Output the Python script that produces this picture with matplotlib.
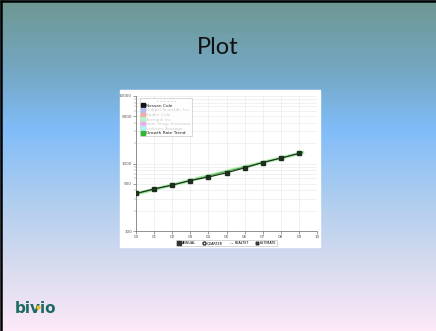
import numpy as np
import matplotlib.pyplot as plt
from matplotlib.colors import LinearSegmentedColormap
from matplotlib.lines import Line2D
from matplotlib.patches import Rectangle

# series values
years = ["00", "01", "02", "03", "04", "05", "06", "07", "08", "09", "10"]
nessen_cole = [360, 422, 478, 560, 630, 728, 863, 1035, 1200, 1410]
trend_x = [0, 9.2]
trend_y = [355, 1450]

y_major = [100, 500, 1000, 5000, 10000]
y_major_labels = ["100", "500", "1000", "5000", "10000"]

legend_names = ["Nessen Cole", "Hubbel Scientific Inc", "Sudler Cole",
                "Archipel Inc", "Baer Stege Investors", "Industry Average",
                "Growth Rate Trend"]
legend_colors = ["#111111", "#b4bcf2", "#f2aaa2", "#b8f2c8", "#f2a8f2",
                 "#b0f2f2", "#2fb82f"]
legend_text_colors = ["#222222", "#c8c8c8", "#c8c8c8", "#c8c8c8", "#c8c8c8",
                      "#c8c8c8", "#222222"]

period_names = ["ANNUAL", "QUARTER", "REALTST", "ESTIMATE"]

fig = plt.figure(figsize=(4.36, 3.31), dpi=100)

# slide background
bg = fig.add_axes([0, 0, 1, 1])
cmap = LinearSegmentedColormap.from_list("slide", [
    (0.0, "#6e9892"), (0.2, "#74a6c0"), (0.39, "#80bcf8"),
    (0.6, "#aecdef"), (0.8, "#d6dbee"), (1.0, "#fde9f8")])
grad = np.linspace(0, 1, 331).reshape(-1, 1)
bg.imshow(grad, aspect="auto", cmap=cmap, extent=[0, 1, 0, 1], origin="upper")
bg.plot([0.003, 0.003], [0, 1], color="black", lw=1.8, solid_capstyle="butt")
bg.plot([0, 1], [0.997, 0.997], color="black", lw=1.8, solid_capstyle="butt")
bg.set_xlim(0, 1)
bg.set_ylim(0, 1)
bg.axis("off")

bg.text(0.5, 0.855, "Plot", ha="center", va="center", fontsize=17,
        family="Lato", color="#111111")

bg.text(0.034, 0.068, "bivio", ha="left", va="center", fontsize=11,
        family="DejaVu Sans", weight="bold", color="#1c6a62", zorder=4)
bg.plot([0.087], [0.074], marker="o", ms=3.0, color="#f0c020", mec="none",
        zorder=6)

# white chart panel
bg.add_patch(Rectangle((0.275, 0.254), 0.459, 0.474, color="white", zorder=2))

ax = fig.add_axes([0.312, 0.302, 0.415, 0.408])
ax.set_facecolor("white")
ax.set_yscale("log")
ax.set_ylim(100, 10000)
ax.set_xlim(0, 10)

x = np.arange(len(nessen_cole))
ax.plot(trend_x, trend_y, color="#a8e8a8", lw=2.4, zorder=2)
ax.plot(trend_x, trend_y, color="#3a9a3a", lw=0.6, zorder=3)
ax.plot(x, nessen_cole, color="#1e2e1e", lw=0.8, marker="s", ms=2.6, zorder=4)

ax.set_xticks(range(len(years)))
ax.set_xticklabels(years, fontsize=3, color="#333333")
ax.set_yticks(y_major)
ax.set_yticklabels(y_major_labels, fontsize=3, color="#333333")
ax.yaxis.set_minor_formatter(plt.NullFormatter())
ax.tick_params(axis="both", length=2, width=0.4, pad=1, colors="#555555")
ax.tick_params(axis="y", which="minor", length=1.5, width=0.3, colors="#777777")
ax.grid(which="both", color="#e6e6e6", lw=0.4)
ax.set_axisbelow(True)
for side in ["top", "right"]:
    ax.spines[side].set_visible(False)
for side in ["left", "bottom"]:
    ax.spines[side].set_color("#666666")
    ax.spines[side].set_linewidth(0.5)

handles = [Line2D([], [], marker="s", ls="none", color=c, ms=2.8)
           for c in legend_colors]
leg = ax.legend(handles, legend_names, loc="upper left",
                bbox_to_anchor=(0.01, 1.0), fontsize=3.1, frameon=True,
                handlelength=0.6, handletextpad=0.6, labelspacing=0.12,
                borderpad=0.3, fancybox=False, edgecolor="#aaaaaa",
                title="-  -  -  -  -  -", title_fontsize=2.5)
leg.get_frame().set_linewidth(0.4)
for t, c in zip(leg.get_texts(), legend_text_colors):
    t.set_color(c)

period_markers = ["s", "o", "None", "X"]
p_handles = [Line2D([], [], marker=m, ls="none" if m != "None" else ":",
                    color="#333333", mfc="#333333" if m == "s" else "white",
                    ms=2.2, lw=0.5)
             for m in period_markers]
pleg = fig.legend(p_handles, period_names, loc="center",
                  bbox_to_anchor=(0.52, 0.265), ncol=4, fontsize=2.4,
                  frameon=True, handlelength=1.0, handletextpad=0.4,
                  columnspacing=2.0, borderpad=0.3, fancybox=False,
                  edgecolor="#aaaaaa")
pleg.get_frame().set_linewidth(0.4)

fig.savefig("out.png", dpi=100)
